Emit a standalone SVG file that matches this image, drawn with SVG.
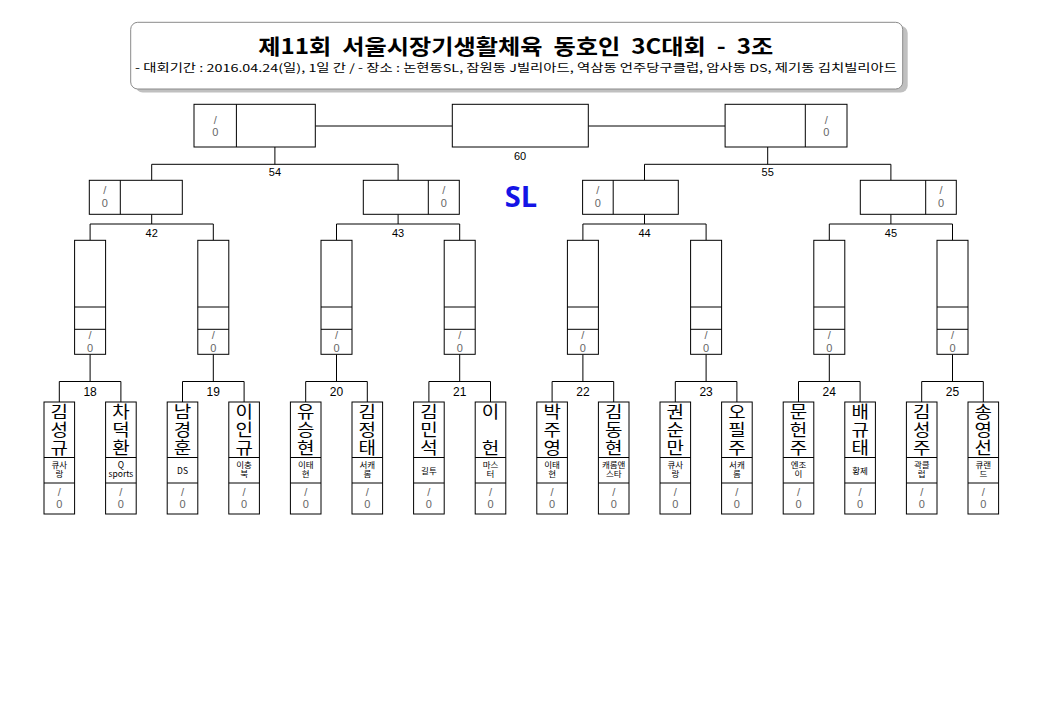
<svg xmlns="http://www.w3.org/2000/svg" width="1041" height="721" viewBox="0 0 1041 721">
<style>
.bx{fill:#fff;stroke:#000;stroke-width:1}
.dv{stroke:#000;stroke-width:1;fill:none}
.cn{stroke:#000;stroke-width:1;fill:none}
.sc{font-family:"Liberation Sans",sans-serif;font-size:11px;fill:#666;text-anchor:middle}
.lb{font-family:"Liberation Sans",sans-serif;font-size:11px;fill:#000;text-anchor:middle}
.lb2{font-family:"Liberation Sans",sans-serif;font-size:12px;fill:#000;text-anchor:middle}
.nm{font-family:"Noto Sans CJK KR","Noto Sans",sans-serif;font-size:16.5px;fill:#000;text-anchor:middle}
.cl{font-family:"Noto Sans CJK KR","Noto Sans",sans-serif;font-size:8.5px;fill:#000;text-anchor:middle}
</style>
<rect width="1041" height="721" fill="#fff"/>
<g id="title">
<rect x="135.7" y="26" width="772" height="66.5" rx="7" fill="#c0c0c0"/>
<rect x="130.7" y="22.3" width="772" height="66.7" rx="7" fill="#fff" stroke="#8a8a8a" stroke-width="1"/>
<text xml:space="preserve" x="258.3" y="54.3" textLength="515" lengthAdjust="spacingAndGlyphs" font-family="'Noto Sans CJK KR',sans-serif" font-size="21" font-weight="bold" fill="#000">제11회  서울시장기생활체육  동호인  3C대회  -  3조</text>
<text x="135" y="71.5" textLength="762" lengthAdjust="spacingAndGlyphs" font-family="'Noto Sans CJK KR',sans-serif" font-size="11" fill="#000">- 대회기간 : 2016.04.24(일), 1일 간 / - 장소 : 논현동SL, 잠원동 J빌리아드, 역삼동 언주당구클럽, 암사동 DS, 제기동 김치빌리아드</text>
</g>
<text id="venue" x="521" y="207.3" font-family="'Open Sans','Liberation Sans',sans-serif" font-size="29" font-weight="bold" fill="#1414e6" text-anchor="middle">SL</text>
<g id="connectors" class="cn">
<path d="M315.3 126H452.3M588.3 126H725.1"/>
<path d="M151.7 180.3V164.3H398.1V180.3M274.9 164.3V147"/>
<path d="M644.5 180.3V164.3H890.9V180.3M767.7 164.3V147"/>
<path d="M90.1 240.3V224H213.3V240.3M151.7 224V214.3"/>
<path d="M336.5 240.3V224H459.7V240.3M398.1 224V214.3"/>
<path d="M582.9 240.3V224H706.1V240.3M644.5 224V214.3"/>
<path d="M829.3 240.3V224H952.5V240.3M890.9 224V214.3"/>
<path d="M59.3 402V381.5H120.9V402M90.1 381.5V354.3"/>
<path d="M182.5 402V381.5H244.1V402M213.3 381.5V354.3"/>
<path d="M305.7 402V381.5H367.3V402M336.5 381.5V354.3"/>
<path d="M428.9 402V381.5H490.5V402M459.7 381.5V354.3"/>
<path d="M552.1 402V381.5H613.7V402M582.9 381.5V354.3"/>
<path d="M675.3 402V381.5H736.9V402M706.1 381.5V354.3"/>
<path d="M798.5 402V381.5H860.1V402M829.3 381.5V354.3"/>
<path d="M921.7 402V381.5H983.3V402M952.5 381.5V354.3"/>
</g>
<g id="labels">
<text class="lb" x="520" y="160">60</text>
<text class="lb" x="274.9" y="175.5">54</text>
<text class="lb" x="767.7" y="175.5">55</text>
<text class="lb" x="151.7" y="236.7">42</text>
<text class="lb" x="398.1" y="236.7">43</text>
<text class="lb" x="644.5" y="236.7">44</text>
<text class="lb" x="890.9" y="236.7">45</text>
<text class="lb2" x="90.1" y="396">18</text>
<text class="lb2" x="213.3" y="396">19</text>
<text class="lb2" x="336.5" y="396">20</text>
<text class="lb2" x="459.7" y="396">21</text>
<text class="lb2" x="582.9" y="396">22</text>
<text class="lb2" x="706.1" y="396">23</text>
<text class="lb2" x="829.3" y="396">24</text>
<text class="lb2" x="952.5" y="396">25</text>
</g>
<g id="m60"><rect class="bx" x="452.3" y="104.3" width="136" height="42.7"/></g>
<g id="m54"><rect class="bx" x="194" y="104.3" width="121.3" height="42.7"/><path class="dv" d="M236.4 104.3V147"/><text class="sc" x="215.2" y="124.3">/</text><text class="sc" x="215.2" y="135.7">0</text></g>
<g id="m55"><rect class="bx" x="725.1" y="104.3" width="121.9" height="42.7"/><path class="dv" d="M805.3 104.3V147"/><text class="sc" x="826.2" y="124.3">/</text><text class="sc" x="826.2" y="135.7">0</text></g>
<g id="m42"><rect class="bx" x="89.3" y="180.3" width="93" height="34"/><path class="dv" d="M120.3 180.3V214.3"/><text class="sc" x="104.8" y="193.5">/</text><text class="sc" x="104.8" y="207.3">0</text></g>
<g id="m43"><rect class="bx" x="363.3" y="180.3" width="96" height="34"/><path class="dv" d="M428.3 180.3V214.3"/><text class="sc" x="443.8" y="193.5">/</text><text class="sc" x="443.8" y="207.3">0</text></g>
<g id="m44"><rect class="bx" x="582.6" y="180.3" width="95.7" height="34"/><path class="dv" d="M613.2 180.3V214.3"/><text class="sc" x="597.9" y="193.5">/</text><text class="sc" x="597.9" y="207.3">0</text></g>
<g id="m45"><rect class="bx" x="860.3" y="180.3" width="96" height="34"/><path class="dv" d="M925.7 180.3V214.3"/><text class="sc" x="941" y="193.5">/</text><text class="sc" x="941" y="207.3">0</text></g>
<g id="r1"><rect class="bx" x="74.6" y="240.3" width="31" height="114"/><path class="dv" d="M74.6 307H105.6M74.6 329.3H105.6"/><text class="sc" x="90.1" y="338.5">/</text><text class="sc" x="90.1" y="351.5">0</text></g>
<g id="r2"><rect class="bx" x="197.8" y="240.3" width="31" height="114"/><path class="dv" d="M197.8 307H228.8M197.8 329.3H228.8"/><text class="sc" x="213.3" y="338.5">/</text><text class="sc" x="213.3" y="351.5">0</text></g>
<g id="r3"><rect class="bx" x="321" y="240.3" width="31" height="114"/><path class="dv" d="M321 307H352M321 329.3H352"/><text class="sc" x="336.5" y="338.5">/</text><text class="sc" x="336.5" y="351.5">0</text></g>
<g id="r4"><rect class="bx" x="444.2" y="240.3" width="31" height="114"/><path class="dv" d="M444.2 307H475.2M444.2 329.3H475.2"/><text class="sc" x="459.7" y="338.5">/</text><text class="sc" x="459.7" y="351.5">0</text></g>
<g id="r5"><rect class="bx" x="567.4" y="240.3" width="31" height="114"/><path class="dv" d="M567.4 307H598.4M567.4 329.3H598.4"/><text class="sc" x="582.9" y="338.5">/</text><text class="sc" x="582.9" y="351.5">0</text></g>
<g id="r6"><rect class="bx" x="690.6" y="240.3" width="31" height="114"/><path class="dv" d="M690.6 307H721.6M690.6 329.3H721.6"/><text class="sc" x="706.1" y="338.5">/</text><text class="sc" x="706.1" y="351.5">0</text></g>
<g id="r7"><rect class="bx" x="813.8" y="240.3" width="31" height="114"/><path class="dv" d="M813.8 307H844.8M813.8 329.3H844.8"/><text class="sc" x="829.3" y="338.5">/</text><text class="sc" x="829.3" y="351.5">0</text></g>
<g id="r8"><rect class="bx" x="937" y="240.3" width="31" height="114"/><path class="dv" d="M937 307H968M937 329.3H968"/><text class="sc" x="952.5" y="338.5">/</text><text class="sc" x="952.5" y="351.5">0</text></g>

<g id="p1"><rect class="bx" x="44" y="402" width="30.6" height="112"/><path class="dv" d="M44 457.5H74.6M44 483H74.6"/><text class="nm" transform="translate(59.3 0) scale(1.15 1)"><tspan x="0" y="418.5">김</tspan><tspan x="0" y="436.5">성</tspan><tspan x="0" y="454.5">규</tspan></text><text class="cl"><tspan x="59.3" y="468">큐사</tspan><tspan x="59.3" y="477">랑</tspan></text><text class="sc" x="59.3" y="495.7">/</text><text class="sc" x="59.3" y="507.7">0</text></g>
<g id="p2"><rect class="bx" x="105.6" y="402" width="30.6" height="112"/><path class="dv" d="M105.6 457.5H136.2M105.6 483H136.2"/><text class="nm" transform="translate(120.9 0) scale(1.15 1)"><tspan x="0" y="418.5">차</tspan><tspan x="0" y="436.5">덕</tspan><tspan x="0" y="454.5">환</tspan></text><text class="cl"><tspan x="120.9" y="468">Q</tspan><tspan x="120.9" y="477">sports</tspan></text><text class="sc" x="120.9" y="495.7">/</text><text class="sc" x="120.9" y="507.7">0</text></g>
<g id="p3"><rect class="bx" x="167.2" y="402" width="30.6" height="112"/><path class="dv" d="M167.2 457.5H197.8M167.2 483H197.8"/><text class="nm" transform="translate(182.5 0) scale(1.15 1)"><tspan x="0" y="418.5">남</tspan><tspan x="0" y="436.5">경</tspan><tspan x="0" y="454.5">훈</tspan></text><text class="cl" x="182.5" y="473.5">DS</text><text class="sc" x="182.5" y="495.7">/</text><text class="sc" x="182.5" y="507.7">0</text></g>
<g id="p4"><rect class="bx" x="228.8" y="402" width="30.6" height="112"/><path class="dv" d="M228.8 457.5H259.4M228.8 483H259.4"/><text class="nm" transform="translate(244.1 0) scale(1.15 1)"><tspan x="0" y="418.5">이</tspan><tspan x="0" y="436.5">인</tspan><tspan x="0" y="454.5">규</tspan></text><text class="cl"><tspan x="244.1" y="468">이충</tspan><tspan x="244.1" y="477">북</tspan></text><text class="sc" x="244.1" y="495.7">/</text><text class="sc" x="244.1" y="507.7">0</text></g>
<g id="p5"><rect class="bx" x="290.4" y="402" width="30.6" height="112"/><path class="dv" d="M290.4 457.5H321M290.4 483H321"/><text class="nm" transform="translate(305.7 0) scale(1.15 1)"><tspan x="0" y="418.5">유</tspan><tspan x="0" y="436.5">승</tspan><tspan x="0" y="454.5">현</tspan></text><text class="cl"><tspan x="305.7" y="468">이태</tspan><tspan x="305.7" y="477">현</tspan></text><text class="sc" x="305.7" y="495.7">/</text><text class="sc" x="305.7" y="507.7">0</text></g>
<g id="p6"><rect class="bx" x="352" y="402" width="30.6" height="112"/><path class="dv" d="M352 457.5H382.6M352 483H382.6"/><text class="nm" transform="translate(367.3 0) scale(1.15 1)"><tspan x="0" y="418.5">김</tspan><tspan x="0" y="436.5">정</tspan><tspan x="0" y="454.5">태</tspan></text><text class="cl"><tspan x="367.3" y="468">서캐</tspan><tspan x="367.3" y="477">롬</tspan></text><text class="sc" x="367.3" y="495.7">/</text><text class="sc" x="367.3" y="507.7">0</text></g>
<g id="p7"><rect class="bx" x="413.6" y="402" width="30.6" height="112"/><path class="dv" d="M413.6 457.5H444.2M413.6 483H444.2"/><text class="nm" transform="translate(428.9 0) scale(1.15 1)"><tspan x="0" y="418.5">김</tspan><tspan x="0" y="436.5">민</tspan><tspan x="0" y="454.5">석</tspan></text><text class="cl" x="428.9" y="473.5">길투</text><text class="sc" x="428.9" y="495.7">/</text><text class="sc" x="428.9" y="507.7">0</text></g>
<g id="p8"><rect class="bx" x="475.2" y="402" width="30.6" height="112"/><path class="dv" d="M475.2 457.5H505.8M475.2 483H505.8"/><text class="nm" transform="translate(490.5 0) scale(1.15 1)"><tspan x="0" y="418.5">이</tspan><tspan x="0" y="454.5">헌</tspan></text><text class="cl"><tspan x="490.5" y="468">마스</tspan><tspan x="490.5" y="477">터</tspan></text><text class="sc" x="490.5" y="495.7">/</text><text class="sc" x="490.5" y="507.7">0</text></g>
<g id="p9"><rect class="bx" x="536.8" y="402" width="30.6" height="112"/><path class="dv" d="M536.8 457.5H567.4M536.8 483H567.4"/><text class="nm" transform="translate(552.1 0) scale(1.15 1)"><tspan x="0" y="418.5">박</tspan><tspan x="0" y="436.5">주</tspan><tspan x="0" y="454.5">영</tspan></text><text class="cl"><tspan x="552.1" y="468">이태</tspan><tspan x="552.1" y="477">현</tspan></text><text class="sc" x="552.1" y="495.7">/</text><text class="sc" x="552.1" y="507.7">0</text></g>
<g id="p10"><rect class="bx" x="598.4" y="402" width="30.6" height="112"/><path class="dv" d="M598.4 457.5H629M598.4 483H629"/><text class="nm" transform="translate(613.7 0) scale(1.15 1)"><tspan x="0" y="418.5">김</tspan><tspan x="0" y="436.5">동</tspan><tspan x="0" y="454.5">현</tspan></text><text class="cl"><tspan x="613.7" y="468">캐롬앤</tspan><tspan x="613.7" y="477">스타</tspan></text><text class="sc" x="613.7" y="495.7">/</text><text class="sc" x="613.7" y="507.7">0</text></g>
<g id="p11"><rect class="bx" x="660" y="402" width="30.6" height="112"/><path class="dv" d="M660 457.5H690.6M660 483H690.6"/><text class="nm" transform="translate(675.3 0) scale(1.15 1)"><tspan x="0" y="418.5">권</tspan><tspan x="0" y="436.5">순</tspan><tspan x="0" y="454.5">만</tspan></text><text class="cl"><tspan x="675.3" y="468">큐사</tspan><tspan x="675.3" y="477">랑</tspan></text><text class="sc" x="675.3" y="495.7">/</text><text class="sc" x="675.3" y="507.7">0</text></g>
<g id="p12"><rect class="bx" x="721.6" y="402" width="30.6" height="112"/><path class="dv" d="M721.6 457.5H752.2M721.6 483H752.2"/><text class="nm" transform="translate(736.9 0) scale(1.15 1)"><tspan x="0" y="418.5">오</tspan><tspan x="0" y="436.5">필</tspan><tspan x="0" y="454.5">주</tspan></text><text class="cl"><tspan x="736.9" y="468">서캐</tspan><tspan x="736.9" y="477">롬</tspan></text><text class="sc" x="736.9" y="495.7">/</text><text class="sc" x="736.9" y="507.7">0</text></g>
<g id="p13"><rect class="bx" x="783.2" y="402" width="30.6" height="112"/><path class="dv" d="M783.2 457.5H813.8M783.2 483H813.8"/><text class="nm" transform="translate(798.5 0) scale(1.15 1)"><tspan x="0" y="418.5">문</tspan><tspan x="0" y="436.5">헌</tspan><tspan x="0" y="454.5">주</tspan></text><text class="cl"><tspan x="798.5" y="468">엔조</tspan><tspan x="798.5" y="477">이</tspan></text><text class="sc" x="798.5" y="495.7">/</text><text class="sc" x="798.5" y="507.7">0</text></g>
<g id="p14"><rect class="bx" x="844.8" y="402" width="30.6" height="112"/><path class="dv" d="M844.8 457.5H875.4M844.8 483H875.4"/><text class="nm" transform="translate(860.1 0) scale(1.15 1)"><tspan x="0" y="418.5">배</tspan><tspan x="0" y="436.5">규</tspan><tspan x="0" y="454.5">태</tspan></text><text class="cl" x="860.1" y="473.5">황제</text><text class="sc" x="860.1" y="495.7">/</text><text class="sc" x="860.1" y="507.7">0</text></g>
<g id="p15"><rect class="bx" x="906.4" y="402" width="30.6" height="112"/><path class="dv" d="M906.4 457.5H937M906.4 483H937"/><text class="nm" transform="translate(921.7 0) scale(1.15 1)"><tspan x="0" y="418.5">김</tspan><tspan x="0" y="436.5">성</tspan><tspan x="0" y="454.5">주</tspan></text><text class="cl"><tspan x="921.7" y="468">곽클</tspan><tspan x="921.7" y="477">럽</tspan></text><text class="sc" x="921.7" y="495.7">/</text><text class="sc" x="921.7" y="507.7">0</text></g>
<g id="p16"><rect class="bx" x="968" y="402" width="30.6" height="112"/><path class="dv" d="M968 457.5H998.6M968 483H998.6"/><text class="nm" transform="translate(983.3 0) scale(1.15 1)"><tspan x="0" y="418.5">송</tspan><tspan x="0" y="436.5">영</tspan><tspan x="0" y="454.5">선</tspan></text><text class="cl"><tspan x="983.3" y="468">큐랜</tspan><tspan x="983.3" y="477">드</tspan></text><text class="sc" x="983.3" y="495.7">/</text><text class="sc" x="983.3" y="507.7">0</text></g>
</svg>
